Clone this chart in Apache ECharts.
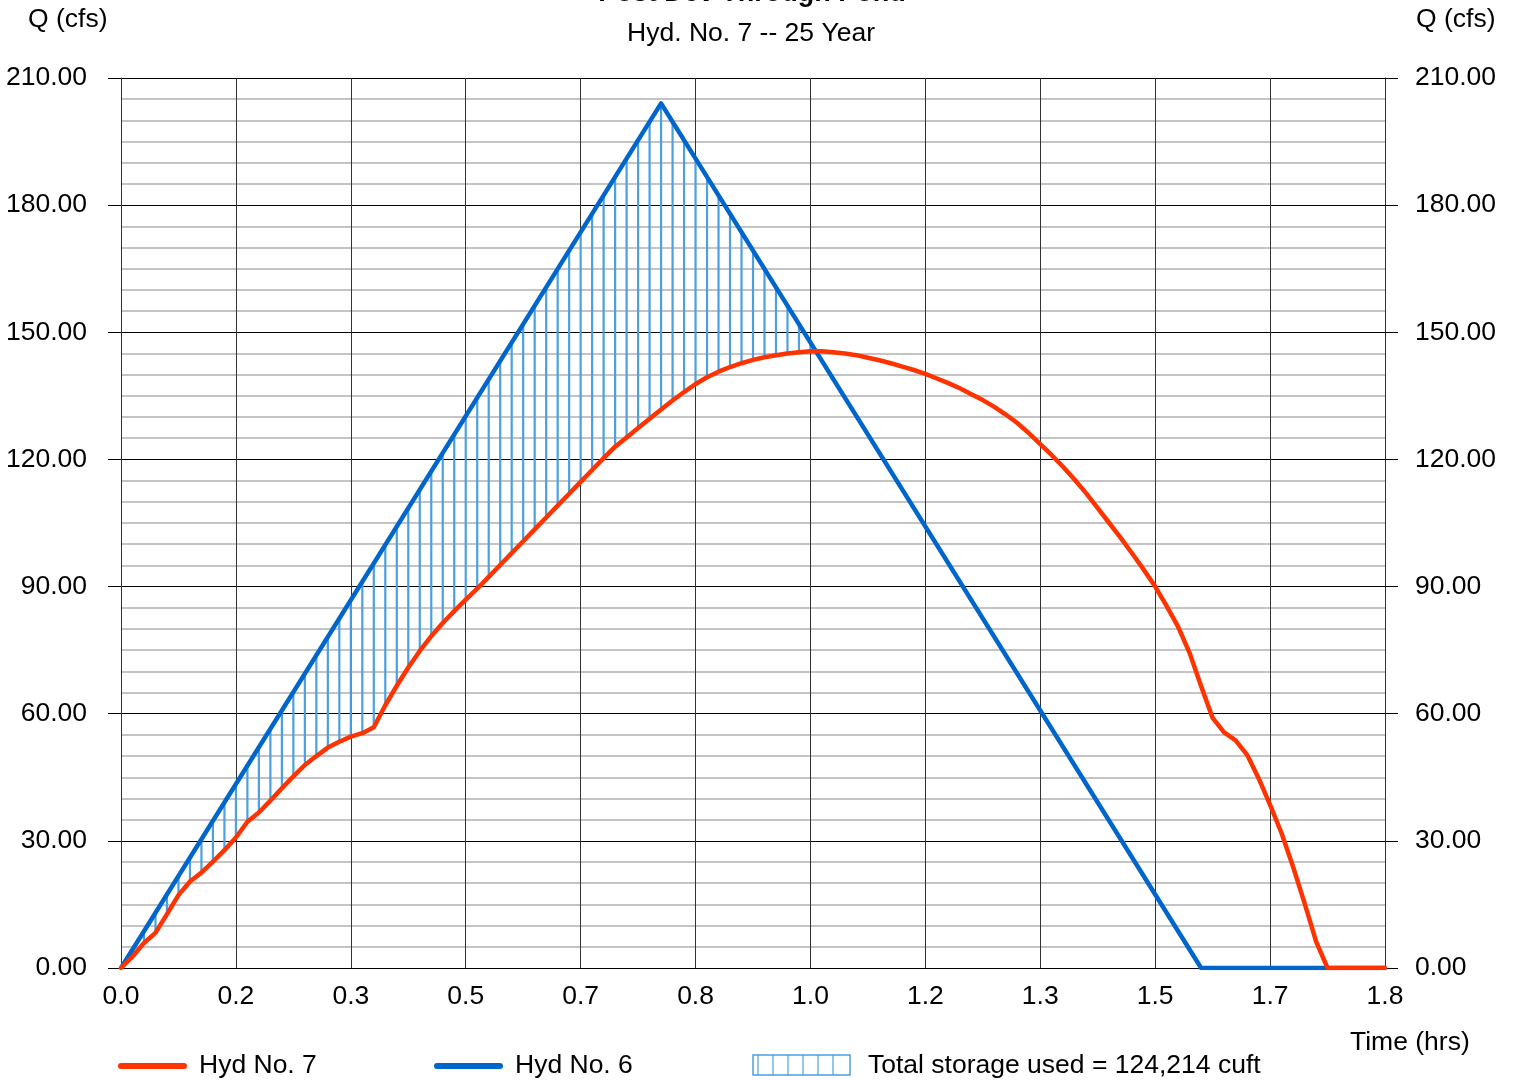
<!DOCTYPE html>
<html><head><meta charset="utf-8">
<script src="https://cdn.jsdelivr.net/npm/echarts@6/dist/echarts.min.js"></script>
<style>html,body{margin:0;padding:0;background:#fff}#c{width:1515px;height:1080px}</style>
</head><body><div id="c"></div>
<script>
// ---- data ----
const xTickLabels = ['0.0','0.2','0.3','0.5','0.7','0.8','1.0','1.2','1.3','1.5','1.7','1.8'];
const yTickLabels = ['0.00','30.00','60.00','90.00','120.00','150.00','180.00','210.00'];
// Hyd No. 6 (inflow) vertices, time in minutes
const inflowTime = [0, 47, 94, 110];
const inflowQ = [0, 204, 0, 0];
// Hyd No. 7 (outflow) one value per minute, 0..110 min
const outflowQ = [
  0, 2.7, 5.9, 8.3, 12.7, 17.2, 20.4, 22.5, 25.1, 27.8,
  30.8, 34.5, 36.7, 39.5, 42.4, 45.2, 47.9, 50.0, 52.0, 53.4,
  54.6, 55.4, 56.8, 62.0, 66.6, 70.9, 74.8, 78.3, 81.4, 84.2,
  86.9, 89.5, 92.3, 95.1, 97.9, 100.7, 103.5, 106.3, 109.1, 111.9,
  114.7, 117.5, 120.3, 123.0, 125.2, 127.4, 129.6, 131.8, 133.9, 135.9,
  137.8, 139.4, 140.7, 141.8, 142.7, 143.5, 144.1, 144.6, 145.0, 145.3,
  145.5, 145.5, 145.3, 145.0, 144.6, 144.0, 143.4, 142.7, 141.9, 141.1,
  140.2, 139.1, 138.0, 136.8, 135.4, 134.0, 132.4, 130.6, 128.6, 126.2,
  123.6, 121.0, 118.2, 115.2, 112.0, 108.5, 105.0, 101.5, 97.8, 94.0,
  90.0, 85.4, 80.5, 74.3, 66.5, 59.0, 55.6, 53.7, 50.3, 44.8,
  38.5, 31.8, 23.9, 15.3, 6.3, 0, 0, 0, 0, 0, 0
];
const legendNames = ['Hyd No. 7', 'Hyd No. 6', 'Total storage used = 124,214 cuft'];

// ---- build ----
const FONT = "'Liberation Sans', Arial, sans-serif";
const FS = 26.5;
const RED = '#ff3300', BLUE = '#0066cc', HATCH = '#4aa0e2';
function inflowAt(t){
  for (let k = 0; k < inflowTime.length - 1; k++) {
    if (t >= inflowTime[k] && t <= inflowTime[k+1]) {
      const f = (t - inflowTime[k]) / (inflowTime[k+1] - inflowTime[k]);
      return inflowQ[k] + f * (inflowQ[k+1] - inflowQ[k]);
    }
  }
  return 0;
}
const outflowData = outflowQ.map((q, i) => [i, q]);
const inflowData = inflowTime.map((t, i) => [t, inflowQ[i]]);
const hatchData = outflowQ.map((q, i) => [i, q, inflowAt(i)]).filter(d => d[2] > d[1] + 1.5);

const yAxisCommon = {
  type: 'value', min: 0, max: 210, interval: 30,
  axisLine: { show: true, lineStyle: { color: '#333', width: 1 } },
  axisTick: { show: true, length: 13, lineStyle: { color: '#000', width: 1 } },
  axisLabel: { fontFamily: FONT, fontSize: FS, color: '#000', formatter: v => yTickLabels[Math.round(v/30)] }
};

const chart = echarts.init(document.getElementById('c'), null, { renderer: 'canvas' });
chart.setOption({
  animation: false,
  backgroundColor: '#fff',
  grid: { left: 121, right: 130, top: 78, bottom: 112, containLabel: false },
  xAxis: {
    type: 'value', min: 0, max: 110, interval: 10,
    axisLine: { show: true, lineStyle: { color: '#000', width: 1 } },
    axisTick: { show: false },
    axisLabel: { fontFamily: FONT, fontSize: FS, color: '#000', margin: 15,
      formatter: v => xTickLabels[Math.round(v/10)] },
    splitLine: { show: true, lineStyle: { color: '#333', width: 1 } }
  },
  yAxis: [
    Object.assign({}, yAxisCommon, {
      position: 'left',
      axisLabel: Object.assign({}, yAxisCommon.axisLabel, { margin: 34 }),
      splitLine: { show: true, lineStyle: { color: '#000', width: 1 } },
      minorTick: { show: false, splitNumber: 6 },
      minorSplitLine: { show: true, lineStyle: { color: '#c4c4c4', width: 2 } }
    }),
    Object.assign({}, yAxisCommon, {
      position: 'right',
      axisLabel: Object.assign({}, yAxisCommon.axisLabel, { margin: 30 }),
      splitLine: { show: false }
    })
  ],
  series: [
    {
      type: 'custom', name: legendNames[2], z: 1,
      data: hatchData,
      encode: { x: 0, y: [1, 2] },
      renderItem: function (params, api) {
        const p1 = api.coord([api.value(0), api.value(1)]);
        const p2 = api.coord([api.value(0), api.value(2)]);
        return { type: 'line', shape: { x1: p1[0], y1: p1[1], x2: p2[0], y2: p2[1] },
          style: { stroke: HATCH, lineWidth: 2.2 } };
      }
    },
    {
      type: 'line', name: legendNames[1], data: inflowData, z: 3,
      showSymbol: false, symbol: 'none',
      lineStyle: { color: BLUE, width: 4.5, join: 'round' }
    },
    {
      type: 'line', name: legendNames[0], data: outflowData, z: 4,
      showSymbol: false, symbol: 'none',
      lineStyle: { color: RED, width: 4.5, join: 'round', cap: 'round' }
    }
  ],
  graphic: [
    { type: 'text', x: 752, y: -20, style: { text: 'Post Dev Through Pond', font: 'bold 27px ' + FONT, fill: '#000', align: 'center', verticalAlign: 'top' } },
    { type: 'text', x: 751, y: 34, style: { text: 'Hyd. No. 7 -- 25 Year', font: FS + 'px ' + FONT, fill: '#000', align: 'center', verticalAlign: 'middle' } },
    { type: 'text', x: 28, y: 20, style: { text: 'Q (cfs)', font: FS + 'px ' + FONT, fill: '#000', align: 'left', verticalAlign: 'middle' } },
    { type: 'text', x: 1416, y: 20, style: { text: 'Q (cfs)', font: FS + 'px ' + FONT, fill: '#000', align: 'left', verticalAlign: 'middle' } },
    { type: 'text', x: 1350, y: 1043, style: { text: 'Time (hrs)', font: FS + 'px ' + FONT, fill: '#000', align: 'left', verticalAlign: 'middle' } },
    // legend
    { type: 'line', shape: { x1: 121, y1: 1066, x2: 184, y2: 1066 }, style: { stroke: RED, lineWidth: 6, lineCap: 'round' } },
    { type: 'text', x: 199, y: 1066, style: { text: legendNames[0], font: FS + 'px ' + FONT, fill: '#000', align: 'left', verticalAlign: 'middle' } },
    { type: 'line', shape: { x1: 437, y1: 1066, x2: 500, y2: 1066 }, style: { stroke: BLUE, lineWidth: 6, lineCap: 'round' } },
    { type: 'text', x: 515, y: 1066, style: { text: legendNames[1], font: FS + 'px ' + FONT, fill: '#000', align: 'left', verticalAlign: 'middle' } },
    { type: 'rect', shape: { x: 753, y: 1055, width: 97, height: 20 }, style: { fill: 'none', stroke: HATCH, lineWidth: 1.5 } },
    { type: 'group', children: [758, 773, 788, 803, 818, 833].map(x => ({ type: 'line', shape: { x1: x, y1: 1055, x2: x, y2: 1075 }, style: { stroke: HATCH, lineWidth: 1.2 } })) },
    { type: 'text', x: 868, y: 1066, style: { text: legendNames[2], font: FS + 'px ' + FONT, fill: '#000', align: 'left', verticalAlign: 'middle' } }
  ]
});
</script>
</body></html>
